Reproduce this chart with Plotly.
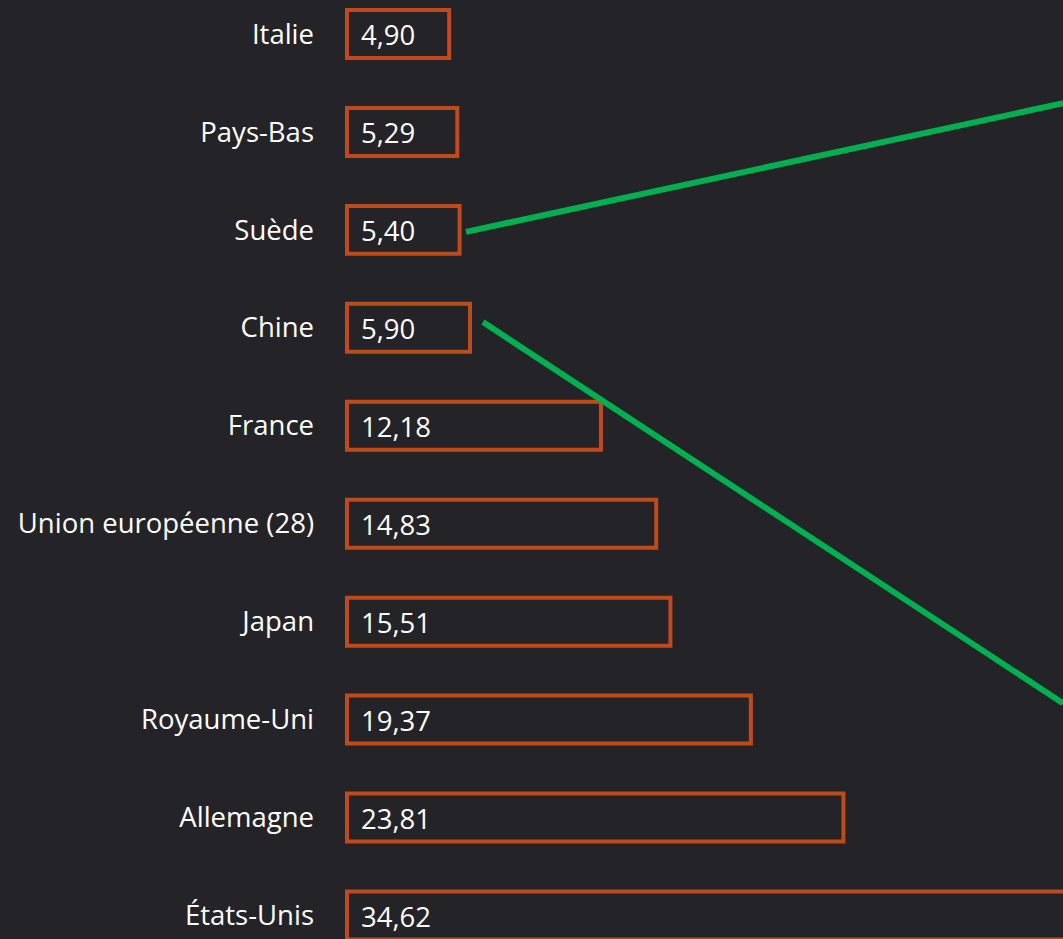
import plotly.graph_objects as go

# energy figures per country
pays = ["Italie", "Pays-Bas", "Suède", "Chine", "France",
        "Union européenne (28)", "Japan", "Royaume-Uni", "Allemagne", "États-Unis"]
valeurs = [4.90, 5.29, 5.40, 5.90, 12.18, 14.83, 15.51, 19.37, 23.81, 34.62]
etiquettes = ["4,90", "5,29", "5,40", "5,90", "12,18", "14,83", "15,51", "19,37", "23,81", "34,62"]

ORANGE = "#bf4a1c"
VERT = "#00b050"
FOND = "#242428"
POLICE = "Open Sans"
TAILLE = 27.5

fig = go.Figure()
fig.add_trace(
    go.Bar(
        x=valeurs,
        y=pays,
        orientation="h",
        width=0.49,
        marker=dict(color="rgba(0,0,0,0)", line=dict(color=ORANGE, width=4)),
        hoverinfo="skip",
        showlegend=False,
    )
)

# value labels at the start of each bar
for p, t in zip(pays, etiquettes):
    fig.add_annotation(
        x=0, y=p, text=t, showarrow=False,
        xanchor="left", xshift=12, yshift=-1,
        font=dict(family=POLICE, size=TAILLE, color="white"),
    )

# green callout lines
fig.add_shape(type="line", xref="paper", yref="paper",
              x0=0.191, y0=0.753, x1=1.0, y1=0.890,
              line=dict(color=VERT, width=6))
fig.add_shape(type="line", xref="paper", yref="paper",
              x0=0.214, y0=0.657, x1=1.0, y1=0.251,
              line=dict(color=VERT, width=6))

fig.update_layout(
    width=1063, height=939,
    margin=dict(l=325, r=0, t=0, b=0),
    paper_bgcolor=FOND,
    plot_bgcolor=FOND,
    font=dict(family=POLICE, size=TAILLE, color="white"),
    xaxis=dict(range=[-1.055, 34.34], visible=False),
    yaxis=dict(
        categoryorder="array", categoryarray=pays,
        range=[9.24, -0.347],
        showgrid=False, zeroline=False, showline=False,
        ticks="", ticklabelstandoff=10,
        tickfont=dict(family=POLICE, size=TAILLE, color="white"),
    ),
)

# drop the default page margin so the chart fills the window
fig.write_html("out.html", config={"displayModeBar": False},
               post_script="document.body.style.margin='0';document.body.style.background='%s';" % FOND)
